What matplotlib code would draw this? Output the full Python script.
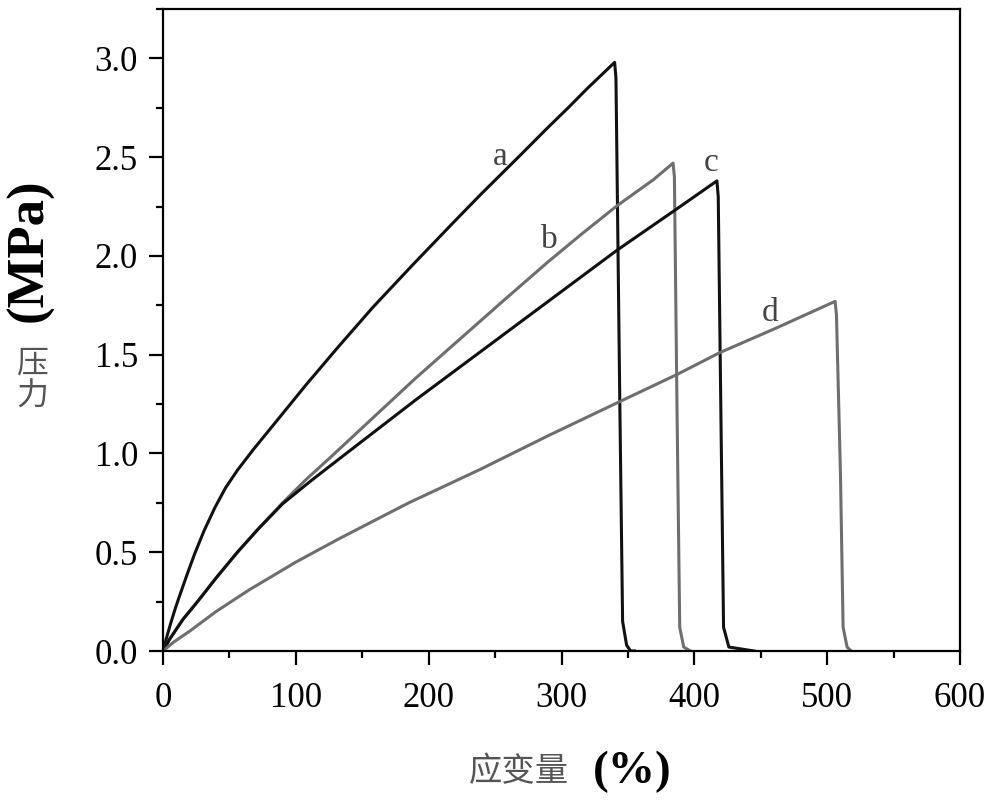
import numpy as np
import matplotlib
matplotlib.use('Agg')
from matplotlib import pyplot
from matplotlib.ticker import MultipleLocator, FormatStrFormatter

# strain (%) / stress (MPa)
strain_a = [0, 3, 6, 9, 12, 18, 24, 31, 39, 47, 56, 68, 85, 108, 132, 158, 188, 218, 239, 254,
            269, 289, 305, 319, 340, 341, 344, 346, 349, 352, 355]
stress_a = [0, 0.075, 0.145, 0.21, 0.27, 0.385, 0.495, 0.61, 0.725, 0.825, 0.915, 1.02, 1.16, 1.35,
            1.54, 1.74, 1.955, 2.165, 2.31, 2.41, 2.51, 2.645, 2.75, 2.845, 2.98,
            2.9, 1.2, 0.15, 0.03, 0.0, 0.0]

strain_b = [0, 5, 15, 26, 40, 56, 72, 90, 108, 126, 158, 190, 222, 254, 289, 315, 342, 369, 384,
            385, 387, 389, 392, 397]
stress_b = [0, 0.06, 0.16, 0.25, 0.37, 0.5, 0.62, 0.75, 0.87, 0.98, 1.18, 1.38, 1.57, 1.76, 1.965,
            2.11, 2.255, 2.385, 2.47, 2.4, 1.2, 0.12, 0.02, 0.0]

strain_c = [0, 5, 15, 26, 40, 56, 72, 90, 112, 136, 163, 190, 215, 239, 270, 300, 342, 384, 417,
            418, 420, 422, 426, 445]
stress_c = [0, 0.06, 0.16, 0.25, 0.37, 0.5, 0.62, 0.745, 0.865, 0.99, 1.13, 1.27, 1.395, 1.515,
            1.67, 1.82, 2.03, 2.225, 2.38, 2.3, 1.2, 0.12, 0.02, 0.0]

strain_d = [0, 8, 20, 40, 65, 100, 133, 185, 239, 290, 343, 387, 419, 460, 506, 507, 510, 512, 515, 518]
stress_d = [0, 0.045, 0.1, 0.2, 0.31, 0.45, 0.57, 0.75, 0.92, 1.09, 1.26, 1.40, 1.51, 1.63, 1.77,
            1.7, 0.9, 0.12, 0.02, 0.0]

curve_names = ['a', 'b', 'c', 'd']
label_pos = [(254, 2.5), (291, 2.08), (413, 2.47), (457, 1.71)]

pyplot.rcParams['font.family'] = ['Liberation Serif', 'DejaVu Serif']

fig = pyplot.figure(figsize=(10, 8.05), dpi=100)
ax = fig.add_axes([0.163, 0.1913, 0.797, 0.7975])

black = '#111111'
grey = '#6e6e6e'
ax.plot(strain_a, stress_a, color=black, lw=2.2)
ax.plot(strain_b, stress_b, color=grey, lw=2.2)
ax.plot(strain_c, stress_c, color=black, lw=2.2)
ax.plot(strain_d, stress_d, color=grey, lw=2.2)

for name, (x, y) in zip(curve_names, label_pos):
    ax.text(x, y, name, fontsize=24, color='#444444', ha='center', va='center')

ax.set_xlim(0, 600)
ax.set_ylim(0, 3.25)
ax.xaxis.set_major_locator(MultipleLocator(100))
ax.xaxis.set_minor_locator(MultipleLocator(50))
ax.yaxis.set_major_locator(MultipleLocator(0.5))
ax.yaxis.set_minor_locator(MultipleLocator(0.25))
ax.yaxis.set_major_formatter(FormatStrFormatter('%.1f'))
ax.tick_params(which='major', direction='out', length=10, width=1.6, labelsize=25, pad=8)
ax.tick_params(which='minor', direction='out', length=5, width=1.6)
ax.tick_params(axis='x', which='major', pad=12)
for s in ax.spines.values():
    s.set_linewidth(1.6)

# axis titles: chinese part in grey, unit part bold
fig.text(0.03, 1 - 250 / 805, '(MPa)', rotation=90, fontsize=38, fontweight='bold',
         ha='center', va='center')
fig.text(0.032, 1 - 380 / 805, '压\n力', fontsize=23, color='#555555', ha='center', va='center',
         linespacing=1.05, family=['Noto Sans CJK SC', 'DejaVu Sans'])
fig.text(0.519, 1 - 772 / 805, '应变量', fontsize=24, color='#555555', ha='center', va='center',
         family=['Noto Sans CJK SC', 'DejaVu Sans'])
fig.text(0.632, 1 - 772 / 805, '(%)', fontsize=34, fontweight='bold', ha='center', va='center')

pyplot.savefig('out.png', dpi=100)
